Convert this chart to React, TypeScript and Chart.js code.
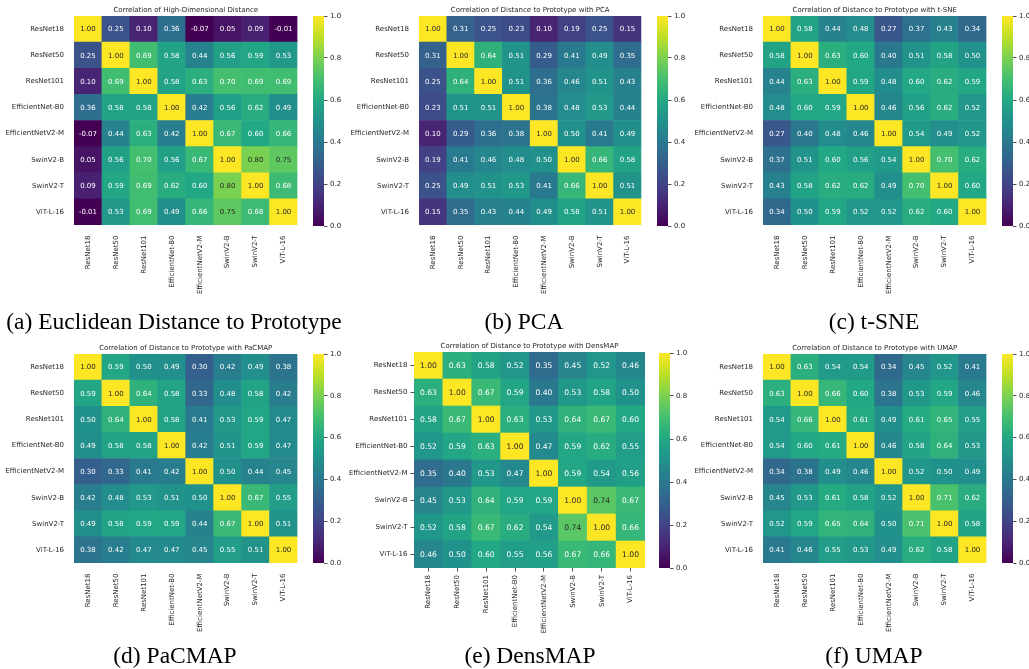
import React, { useEffect, useRef } from 'react';
import { Chart, registerables } from 'chart.js';

Chart.register(...registerables);

const MODELS = ['ResNet18', 'ResNet50', 'ResNet101', 'EfficientNet-B0', 'EfficientNetV2-M', 'SwinV2-B', 'SwinV2-T', 'ViT-L-16'];

const EUCLIDEAN = [
  [1.0, 0.25, 0.1, 0.36, -0.07, 0.05, 0.09, -0.01],
  [0.25, 1.0, 0.69, 0.58, 0.44, 0.56, 0.59, 0.53],
  [0.1, 0.69, 1.0, 0.58, 0.63, 0.7, 0.69, 0.69],
  [0.36, 0.58, 0.58, 1.0, 0.42, 0.56, 0.62, 0.49],
  [-0.07, 0.44, 0.63, 0.42, 1.0, 0.67, 0.6, 0.66],
  [0.05, 0.56, 0.7, 0.56, 0.67, 1.0, 0.8, 0.75],
  [0.09, 0.59, 0.69, 0.62, 0.6, 0.8, 1.0, 0.68],
  [-0.01, 0.53, 0.69, 0.49, 0.66, 0.75, 0.68, 1.0],
];

const PCA = [
  [1.0, 0.31, 0.25, 0.23, 0.1, 0.19, 0.25, 0.15],
  [0.31, 1.0, 0.64, 0.51, 0.29, 0.41, 0.49, 0.35],
  [0.25, 0.64, 1.0, 0.51, 0.36, 0.46, 0.51, 0.43],
  [0.23, 0.51, 0.51, 1.0, 0.38, 0.48, 0.53, 0.44],
  [0.1, 0.29, 0.36, 0.38, 1.0, 0.5, 0.41, 0.49],
  [0.19, 0.41, 0.46, 0.48, 0.5, 1.0, 0.66, 0.58],
  [0.25, 0.49, 0.51, 0.53, 0.41, 0.66, 1.0, 0.51],
  [0.15, 0.35, 0.43, 0.44, 0.49, 0.58, 0.51, 1.0],
];

const TSNE = [
  [1.0, 0.58, 0.44, 0.48, 0.27, 0.37, 0.43, 0.34],
  [0.58, 1.0, 0.63, 0.6, 0.4, 0.51, 0.58, 0.5],
  [0.44, 0.63, 1.0, 0.59, 0.48, 0.6, 0.62, 0.59],
  [0.48, 0.6, 0.59, 1.0, 0.46, 0.56, 0.62, 0.52],
  [0.27, 0.4, 0.48, 0.46, 1.0, 0.54, 0.49, 0.52],
  [0.37, 0.51, 0.6, 0.56, 0.54, 1.0, 0.7, 0.62],
  [0.43, 0.58, 0.62, 0.62, 0.49, 0.7, 1.0, 0.6],
  [0.34, 0.5, 0.59, 0.52, 0.52, 0.62, 0.6, 1.0],
];

const PACMAP = [
  [1.0, 0.59, 0.5, 0.49, 0.3, 0.42, 0.49, 0.38],
  [0.59, 1.0, 0.64, 0.58, 0.33, 0.48, 0.58, 0.42],
  [0.5, 0.64, 1.0, 0.58, 0.41, 0.53, 0.59, 0.47],
  [0.49, 0.58, 0.58, 1.0, 0.42, 0.51, 0.59, 0.47],
  [0.3, 0.33, 0.41, 0.42, 1.0, 0.5, 0.44, 0.45],
  [0.42, 0.48, 0.53, 0.51, 0.5, 1.0, 0.67, 0.55],
  [0.49, 0.58, 0.59, 0.59, 0.44, 0.67, 1.0, 0.51],
  [0.38, 0.42, 0.47, 0.47, 0.45, 0.55, 0.51, 1.0],
];

const DENSMAP = [
  [1.0, 0.63, 0.58, 0.52, 0.35, 0.45, 0.52, 0.46],
  [0.63, 1.0, 0.67, 0.59, 0.4, 0.53, 0.58, 0.5],
  [0.58, 0.67, 1.0, 0.63, 0.53, 0.64, 0.67, 0.6],
  [0.52, 0.59, 0.63, 1.0, 0.47, 0.59, 0.62, 0.55],
  [0.35, 0.4, 0.53, 0.47, 1.0, 0.59, 0.54, 0.56],
  [0.45, 0.53, 0.64, 0.59, 0.59, 1.0, 0.74, 0.67],
  [0.52, 0.58, 0.67, 0.62, 0.54, 0.74, 1.0, 0.66],
  [0.46, 0.5, 0.6, 0.55, 0.56, 0.67, 0.66, 1.0],
];

const UMAP = [
  [1.0, 0.63, 0.54, 0.54, 0.34, 0.45, 0.52, 0.41],
  [0.63, 1.0, 0.66, 0.6, 0.38, 0.53, 0.59, 0.46],
  [0.54, 0.66, 1.0, 0.61, 0.49, 0.61, 0.65, 0.55],
  [0.54, 0.6, 0.61, 1.0, 0.46, 0.58, 0.64, 0.53],
  [0.34, 0.38, 0.49, 0.46, 1.0, 0.52, 0.5, 0.49],
  [0.45, 0.53, 0.61, 0.58, 0.52, 1.0, 0.71, 0.62],
  [0.52, 0.59, 0.65, 0.64, 0.5, 0.71, 1.0, 0.58],
  [0.41, 0.46, 0.55, 0.53, 0.49, 0.62, 0.58, 1.0],
];

const TITLES = [
  'Correlation of High-Dimensional Distance',
  'Correlation of Distance to Prototype with PCA',
  'Correlation of Distance to Prototype with t-SNE',
  'Correlation of Distance to Prototype with PaCMAP',
  'Correlation of Distance to Prototype with DensMAP',
  'Correlation of Distance to Prototype with UMAP',
];

const CAPTIONS = [
  '(a) Euclidean Distance to Prototype',
  '(b) PCA',
  '(c) t-SNE',
  '(d) PaCMAP',
  '(e) DensMAP',
  '(f) UMAP',
];

const CB_MIN = 0;
const CB_MAX = 1;
const CB_STEP = 0.2;

// viridis colormap stops (style, not data)
const VIRIDIS = ['#440154', '#482475', '#414487', '#355f8d', '#2a788e', '#21918c', '#22a884', '#44bf70', '#7ad151', '#bddf26', '#fde725'];

const TEXT = '#262626';
const FONT = "'DejaVu Sans', sans-serif";

function hexToRgb(h: string) {
  return [parseInt(h.slice(1, 3), 16), parseInt(h.slice(3, 5), 16), parseInt(h.slice(5, 7), 16)];
}
const VIR_RGB = VIRIDIS.map(hexToRgb);

function viridisRgb(v: number) {
  let t = (v - CB_MIN) / (CB_MAX - CB_MIN);
  t = Math.max(0, Math.min(1, t));
  const p = t * (VIR_RGB.length - 1);
  const i = Math.min(VIR_RGB.length - 2, Math.floor(p));
  const f = p - i;
  const a = VIR_RGB[i];
  const b = VIR_RGB[i + 1];
  return [0, 1, 2].map((k) => a[k] + (b[k] - a[k]) * f);
}

function viridis(v: number) {
  const [r, g, b] = viridisRgb(v);
  return `rgb(${Math.round(r)},${Math.round(g)},${Math.round(b)})`;
}

function textColor(v: number) {
  const rgb = viridisRgb(v).map((c) => {
    const s = c / 255;
    return s <= 0.03928 ? s / 12.92 : Math.pow((s + 0.055) / 1.055, 2.4);
  });
  const lum = 0.2126 * rgb[0] + 0.7152 * rgb[1] + 0.0722 * rgb[2];
  return lum > 0.408 ? TEXT : '#ffffff';
}

const cellTextPlugin = {
  id: 'cellText',
  afterDatasetsDraw(chart: any, _args: any, opts: any) {
    const meta = chart.getDatasetMeta(0);
    const ds = chart.data.datasets[0].data;
    const ctx = chart.ctx;
    ctx.save();
    ctx.font = `${opts.size || 7}px ${FONT}`;
    ctx.textAlign = 'center';
    ctx.textBaseline = 'middle';
    meta.data.forEach((el: any, i: number) => {
      const raw = ds[i];
      const p = el.getProps(['x', 'y', 'base'], true);
      ctx.fillStyle = textColor(raw.v);
      ctx.fillText(raw.v.toFixed(2), p.x, (p.y + p.base) / 2 + 0.5);
    });
    ctx.restore();
  },
};

type Box = { l: number; t: number; r: number; b: number };

const YW = 74;
const TH = 16;
const XH = 80;

function Heatmap({ matrix, title, box, tickMarks, annSize }: { matrix: number[][]; title: string; box: Box; tickMarks: boolean; annSize: number }) {
  const ref = useRef<HTMLCanvasElement>(null);
  const width = box.r - box.l + YW;
  const height = box.b - box.t + TH + XH;
  useEffect(() => {
    const data: any[] = [];
    matrix.forEach((row, r) => row.forEach((v, c) => data.push({ x: MODELS[c], y: [r, r + 1], v })));
    const tickFont = { family: FONT, size: 7 };
    const chart = new Chart(ref.current as HTMLCanvasElement, {
      type: 'bar',
      data: {
        labels: MODELS,
        datasets: [
          {
            data,
            backgroundColor: (ctx: any) => (ctx.raw ? viridis(ctx.raw.v) : '#000'),
            borderWidth: 0,
            barPercentage: 1,
            categoryPercentage: 1,
          } as any,
        ],
      },
      options: {
        animation: false,
        responsive: false,
        events: [],
        layout: { padding: 0 },
        plugins: {
          legend: { display: false },
          tooltip: { enabled: false },
          title: {
            display: true,
            text: title,
            fullSize: false,
            color: TEXT,
            font: { family: FONT, size: 7, weight: 'normal' },
            padding: { top: 6, bottom: 1.6 },
          },
          cellText: { size: annSize },
        } as any,
        scales: {
          x: {
            type: 'category',
            offset: true,
            grid: { display: tickMarks, offset: false, drawOnChartArea: false, drawTicks: true, tickLength: 3.5, color: TEXT, lineWidth: 0.8 },
            border: { display: false },
            ticks: { minRotation: 90, maxRotation: 90, autoSkip: false, font: tickFont, color: TEXT, padding: tickMarks ? 3.5 : 7 },
            afterFit: (s: any) => {
              s.height = XH;
            },
          },
          y: {
            type: 'linear',
            min: 0,
            max: MODELS.length,
            reverse: true,
            grid: { display: tickMarks, drawOnChartArea: false, drawTicks: true, tickLength: 3.5, color: TEXT, lineWidth: 0.8 },
            border: { display: false },
            afterBuildTicks: (s: any) => {
              s.ticks = MODELS.map((_, i) => ({ value: i + 0.5 }));
            },
            ticks: {
              autoSkip: false,
              font: tickFont,
              color: TEXT,
              padding: tickMarks ? 3 : 6.5,
              callback: (v: any) => MODELS[Math.floor(Number(v))],
            },
            afterFit: (s: any) => {
              s.width = YW;
            },
          },
        } as any,
      },
      plugins: [cellTextPlugin],
    });
    return () => chart.destroy();
  }, []);
  return (
    <canvas
      ref={ref}
      width={width}
      height={height}
      style={{ position: 'absolute', left: box.l - YW, top: box.t - TH, width, height }}
    />
  );
}

const CB_W = 11;
const CB_AX = 30;
const CB_PAD = 10;

function Colorbar({ box }: { box: Box }) {
  const ref = useRef<HTMLCanvasElement>(null);
  const width = CB_W + CB_AX;
  const height = box.b - box.t + 2 * CB_PAD;
  useEffect(() => {
    const chart = new Chart(ref.current as HTMLCanvasElement, {
      type: 'bar',
      data: {
        labels: [''],
        datasets: [
          {
            data: [[CB_MIN, CB_MAX]],
            backgroundColor: (ctx: any) => {
              const ca = ctx.chart.chartArea;
              if (!ca) return VIRIDIS[0];
              const g = ctx.chart.ctx.createLinearGradient(0, ca.bottom, 0, ca.top);
              VIRIDIS.forEach((c, i) => g.addColorStop(i / (VIRIDIS.length - 1), c));
              return g;
            },
            borderWidth: 0,
            barPercentage: 1,
            categoryPercentage: 1,
          } as any,
        ],
      },
      options: {
        animation: false,
        responsive: false,
        events: [],
        layout: { padding: { top: CB_PAD, bottom: CB_PAD, left: 0, right: 0 } },
        plugins: { legend: { display: false }, tooltip: { enabled: false } },
        scales: {
          x: { display: false },
          y: {
            position: 'right',
            min: CB_MIN,
            max: CB_MAX,
            grid: { drawOnChartArea: false, drawTicks: true, tickLength: 3.5, color: TEXT, lineWidth: 0.8 },
            border: { display: false },
            ticks: {
              stepSize: CB_STEP,
              font: { family: FONT, size: 7 },
              color: TEXT,
              padding: 2.5,
              callback: (v: any) => Number(v).toFixed(1),
            },
            afterFit: (s: any) => {
              s.width = CB_AX;
            },
          },
        } as any,
      },
    });
    return () => chart.destroy();
  }, []);
  return (
    <canvas
      ref={ref}
      width={width}
      height={height}
      style={{ position: 'absolute', left: box.l, top: box.t - CB_PAD, width, height }}
    />
  );
}

const MATRICES = [EUCLIDEAN, PCA, TSNE, PACMAP, DENSMAP, UMAP];

const HEAT_BOXES: Box[] = [
  { l: 74, t: 16, r: 299, b: 225 },
  { l: 419, t: 16, r: 643, b: 225 },
  { l: 763, t: 16, r: 988, b: 225 },
  { l: 74, t: 354, r: 299, b: 563 },
  { l: 414, t: 352, r: 645, b: 568 },
  { l: 763, t: 354, r: 988, b: 563 },
];

const CB_BOXES: Box[] = [
  { l: 313, t: 16, r: 324, b: 226 },
  { l: 657, t: 16, r: 668, b: 226 },
  { l: 1002, t: 16, r: 1013, b: 226 },
  { l: 313, t: 354, r: 324, b: 563 },
  { l: 659, t: 353, r: 670, b: 568 },
  { l: 1002, t: 354, r: 1013, b: 563 },
];

const CAPTION_POS = [
  { cx: 174, cy: 321 },
  { cx: 524, cy: 321 },
  { cx: 874, cy: 321 },
  { cx: 175, cy: 655 },
  { cx: 530, cy: 655 },
  { cx: 874, cy: 655 },
];

export default function App() {
  return (
    <div style={{ position: 'absolute', left: 0, top: 0, width: 1029, height: 669, background: '#fff', overflow: 'hidden' }}>
      {MATRICES.map((m, i) => (
        <Heatmap key={'h' + i} matrix={m} title={TITLES[i]} box={HEAT_BOXES[i]} tickMarks={i === 4} annSize={i === 4 ? 7.6 : 7} />
      ))}
      {CB_BOXES.map((b, i) => (
        <Colorbar key={'c' + i} box={b} />
      ))}
      {CAPTIONS.map((c, i) => (
        <div
          key={'t' + i}
          style={{
            position: 'absolute',
            left: CAPTION_POS[i].cx - 250,
            top: CAPTION_POS[i].cy - 15,
            width: 500,
            height: 30,
            lineHeight: '30px',
            textAlign: 'center',
            fontFamily: "'Liberation Serif', 'Times New Roman', serif",
            fontSize: 23.5,
            color: '#000',
            whiteSpace: 'nowrap',
          }}
        >
          {c}
        </div>
      ))}
    </div>
  );
}
